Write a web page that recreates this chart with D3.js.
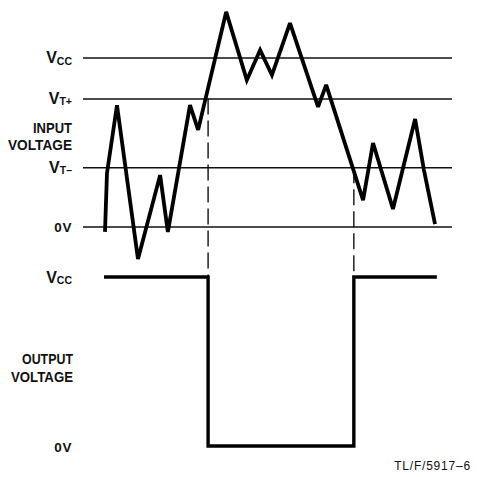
<!DOCTYPE html>
<html>
<head>
<meta charset="utf-8">
<script src="https://cdn.jsdelivr.net/npm/d3@7/dist/d3.min.js"></script>
<style>
  html, body { margin: 0; padding: 0; background: #fff; }
  svg { display: block; }
  .lbl { font-family: "Liberation Sans", Arial, sans-serif; font-weight: bold; fill: #111; }
</style>
</head>
<body>
<svg id="chart" width="477" height="477"></svg>
<script>
// ---- data ----
// input waveform: time (arbitrary units 0..100), voltage (0V..Vcc = 0..5)
const inputTime = [5.96, 6.5, 9.21, 14.9, 20.9, 23.0, 29.0, 31.2, 38.8, 44.4, 48.0, 51.2, 56.1, 63.7, 65.9, 75.9, 78.6, 84.0, 90.0, 92.4, 95.4];
const inputVolt = [-0.16, 1.58, 3.59, -0.96, 1.52, -0.16, 3.59, 2.86, 6.35, 4.33, 5.22, 4.48, 6.02, 3.54, 4.19, 0.78, 2.47, 0.52, 3.18, 1.67, 0.07];
// reference levels on input axis
const inputLevelNames = ["VCC", "VT+", "VT-", "0V"];
const inputLevelVolt  = [5, 3.79, 1.75, 0];
// output waveform (comparator switches at VT+ rising, VT- falling)
const outputTime = [5.7, 33.9, 33.9, 73.4, 73.4, 95.9];
const outputVolt = [1, 1, 0, 0, 1, 1];
const outputLevelNames = ["VCC", "0V"];
const outputLevelVolt = [1, 0];
// threshold crossing times (dashed markers)
const switchTime = [33.9, 73.4];
const switchFrom = [3.79, 1.75];
const axisTitles = ["INPUT", "VOLTAGE", "OUTPUT", "VOLTAGE"];
const footnote = "TL/F/5917\u20136";

// ---- scales ----
const svg = d3.select("#chart");
const x = d3.scaleLinear().domain([0, 100]).range([83, 452]);
const yIn = d3.scaleLinear().domain([0, 5]).range([226.5, 57.5]);
const yOut = d3.scaleLinear().domain([0, 1]).range([446, 277]);

// ---- input reference lines via axis ----
const axisIn = d3.axisLeft(yIn)
  .tickValues(inputLevelVolt)
  .tickSize(-(x.range()[1] - x.range()[0]))
  .tickFormat("");
const gAx = svg.append("g").attr("transform", `translate(${x.range()[0]},0)`).call(axisIn);
gAx.select(".domain").remove();
gAx.selectAll(".tick line").attr("stroke", "#111").attr("stroke-width", 1.5);

// label helper with subscript
function levelLabel(g, name, yPix) {
  const t = g.append("text").attr("class", "lbl").attr("text-anchor", "end")
    .attr("x", 72).attr("y", yPix);
  if (name === "0V") {
    t.attr("font-size", 13.5).style("letter-spacing", "0.6px").text("0V");
    return;
  }
  const main = name.charAt(0), sub = name.slice(1).replace("-", "\u2013");
  t.append("tspan").attr("font-size", 16).text(main);
  t.append("tspan").attr("font-size", 10.5).attr("dy", 1.5).text(sub);
}

const labels = svg.append("g");
inputLevelNames.forEach((n, i) => levelLabel(labels, n, yIn(inputLevelVolt[i]) + 5.5));
outputLevelNames.forEach((n, i) => levelLabel(labels, n, yOut(outputLevelVolt[i]) + 5.5));

// axis titles
const titleY = [133, 150, 364, 382];
const titleW = [39, 64, 51, 62];
const titleR = [72, 72, 73, 73];
axisTitles.forEach((t, i) => {
  labels.append("text").attr("class", "lbl").attr("text-anchor", "end")
    .attr("x", titleR[i]).attr("y", titleY[i]).attr("font-size", 14)
    .attr("textLength", titleW[i]).attr("lengthAdjust", "spacingAndGlyphs")
    .text(t);
});

// ---- dashed switching markers ----
switchTime.forEach((t, i) => {
  svg.append("line")
    .attr("x1", x(t)).attr("x2", x(t))
    .attr("y1", yIn(switchFrom[i])).attr("y2", yOut(1))
    .attr("stroke", "#111").attr("stroke-width", 1.4)
    .attr("stroke-dasharray", "16,6");
});

// ---- input waveform ----
const inLine = d3.line().x(d => x(d[0])).y(d => yIn(d[1]));
svg.append("path")
  .datum(d3.zip(inputTime, inputVolt))
  .attr("d", inLine)
  .attr("fill", "none").attr("stroke", "#000").attr("stroke-width", 3.8)
  .attr("stroke-linejoin", "miter").attr("stroke-miterlimit", 3);

// ---- output waveform ----
const outLine = d3.line().x(d => x(d[0])).y(d => yOut(d[1]));
svg.append("path")
  .datum(d3.zip(outputTime, outputVolt))
  .attr("d", outLine)
  .attr("fill", "none").attr("stroke", "#000").attr("stroke-width", 3.4)
  .attr("stroke-linejoin", "miter");

// ---- footnote ----
svg.append("text")
  .attr("x", 471).attr("y", 470).attr("text-anchor", "end")
  .attr("font-family", "Liberation Sans, Arial, sans-serif")
  .attr("font-size", 12).style("letter-spacing", "0.8px").attr("fill", "#111")
  .text(footnote);
</script>
</body>
</html>
